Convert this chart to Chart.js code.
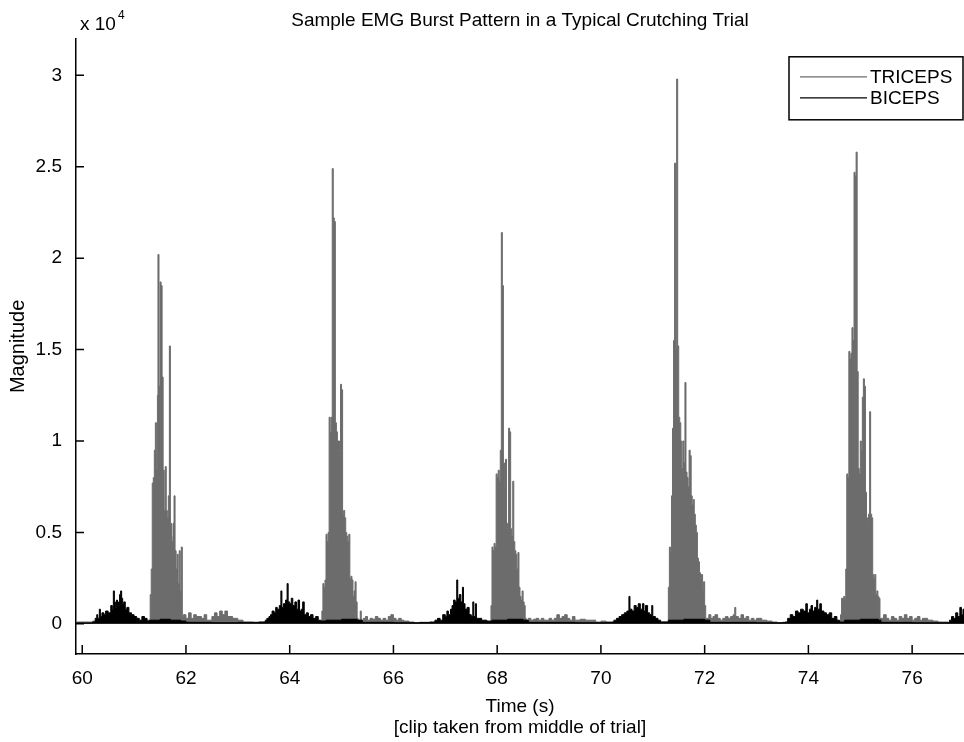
<!DOCTYPE html>
<html lang="en">
  <head>
    <meta charset="UTF-8" />
    <title>Sample EMG Burst Pattern</title>
    <script src="https://cdn.jsdelivr.net/npm/chart.js"></script>
    <style>
      body {
        margin: 0;
        background: #fff;
      }
      #chartContainer {
        width: 964px;
        height: 742px;
      }
    </style>
  </head>
  <body>
    <div id="chartContainer">
      <canvas id="emgChart" width="964" height="742"></canvas>
    </div>

    <script>
      // magnitudes are in units of 10^4
      const xTicks = [60, 62, 64, 66, 68, 70, 72, 74, 76];
      const yTicks = [0, 0.5, 1, 1.5, 2, 2.5, 3];

      const tricepsTime = [
        59.88, 60.2, 60.5, 60.8, 61.0, 61.2,
        61.31, 61.33, 61.35, 61.37, 61.39, 61.41, 61.43, 61.45, 61.46, 61.48,
        61.5, 61.52, 61.54, 61.56, 61.58, 61.6, 61.62, 61.64, 61.66, 61.68,
        61.7, 61.72, 61.73, 61.75, 61.77, 61.79, 61.81, 61.83, 61.85, 61.87,
        61.89, 61.91, 61.93,
        61.95, 62.0, 62.05, 62.1, 62.15, 62.2, 62.3, 62.35, 62.4, 62.5, 62.55,
        62.6, 62.65, 62.7, 62.75, 62.8, 62.9, 63.0, 63.1, 63.3, 63.5,
        64.62, 64.64, 64.66, 64.68, 64.7, 64.72, 64.74, 64.76, 64.78, 64.8,
        64.82, 64.84, 64.86, 64.88, 64.9, 64.92, 64.94, 64.96, 64.98, 65.0,
        65.02, 65.04, 65.06, 65.08, 65.1, 65.12, 65.14, 65.16, 65.18, 65.2,
        65.22, 65.24, 65.26, 65.28, 65.3,
        65.32, 65.36, 65.38, 65.42, 65.46, 65.5, 65.55, 65.6, 65.65, 65.7,
        65.75, 65.8, 65.85, 65.9, 65.95, 66.0, 66.05, 66.1, 66.15, 66.2,
        66.3, 66.4, 66.8, 67.3, 67.8,
        67.88, 67.9, 67.92, 67.94, 67.96, 67.98, 68.0, 68.02, 68.04, 68.06,
        68.08, 68.1, 68.12, 68.14, 68.16, 68.18, 68.2, 68.22, 68.24, 68.26,
        68.28, 68.3, 68.32, 68.34, 68.36, 68.38, 68.4, 68.42, 68.44, 68.46,
        68.48, 68.5, 68.52, 68.54,
        68.56, 68.6, 68.65, 68.7, 68.75, 68.8, 68.85, 68.9, 69.0, 69.05,
        69.1, 69.15, 69.2, 69.25, 69.3, 69.35, 69.4, 69.45, 69.5, 69.6,
        69.7, 69.8, 69.9, 70.0, 70.1, 70.2, 70.7, 71.2,
        71.3, 71.32, 71.34, 71.36, 71.38, 71.4, 71.42, 71.44, 71.46, 71.48,
        71.5, 71.52, 71.54, 71.56, 71.58, 71.6, 71.62, 71.64, 71.66, 71.68,
        71.7, 71.72, 71.74, 71.76, 71.78, 71.8, 71.82, 71.84, 71.86, 71.88,
        71.9, 71.92, 71.94, 71.96, 71.98, 72.0, 72.02,
        72.04, 72.08, 72.12, 72.16, 72.2, 72.25, 72.3, 72.35, 72.4, 72.45,
        72.5, 72.55, 72.58, 72.6, 72.65, 72.7, 72.75, 72.8, 72.85, 72.9,
        72.95, 73.0, 73.1, 73.2, 73.3, 73.4, 73.5, 74.0, 74.5,
        74.62, 74.64, 74.66, 74.68, 74.7, 74.72, 74.74, 74.76, 74.78, 74.8,
        74.82, 74.84, 74.86, 74.88, 74.9, 74.92, 74.94, 74.96, 74.98, 75.0,
        75.02, 75.04, 75.06, 75.08, 75.1, 75.12, 75.14, 75.16, 75.18, 75.2,
        75.22, 75.24, 75.26, 75.28, 75.3, 75.32, 75.34, 75.36, 75.38,
        75.4, 75.45, 75.5, 75.55, 75.6, 75.65, 75.7, 75.75, 75.8, 75.85,
        75.9, 75.95, 76.0, 76.05, 76.1, 76.15, 76.2, 76.3, 76.4, 76.5,
        76.6, 76.7, 77.0,
      ];
      const tricepsMag = [
        0.01, 0.015, 0.01, 0.02, 0.015, 0.02,
        0.16, 0.3, 0.77, 0.8, 0.95, 1.1, 0.85, 1.25, 2.02, 1.3,
        1.87, 1.85, 1.35, 0.84, 0.62, 0.86, 0.62, 0.58, 0.7, 1.52,
        0.55, 0.48, 0.45, 0.55, 0.7, 0.4, 0.3, 0.38, 0.22, 0.4,
        0.18, 0.42, 0.04,
        0.05, 0.03, 0.06, 0.03, 0.05, 0.04, 0.03, 0.05, 0.02, 0.04, 0.06,
        0.04, 0.07, 0.05, 0.07, 0.04, 0.03, 0.02, 0.01, 0.008, 0.01,
        0.07, 0.22, 0.2, 0.24, 0.49, 0.45, 0.5, 1.13, 1.05, 1.13,
        2.49, 2.22, 2.2, 1.1, 1.05, 1.0, 1.0, 0.95, 1.31, 1.28,
        0.6, 0.62, 0.58, 0.5, 0.48, 0.45, 0.49, 0.25, 0.26, 0.24,
        0.15, 0.18, 0.23, 0.12, 0.03,
        0.02, 0.07, 0.02, 0.03, 0.04, 0.02, 0.03, 0.025, 0.04, 0.03,
        0.02, 0.03, 0.02, 0.04, 0.05, 0.03, 0.02, 0.03, 0.02, 0.015,
        0.01, 0.005, 0.01, 0.01, 0.01,
        0.1, 0.42, 0.4, 0.44, 0.42, 0.82, 0.8, 0.84, 0.78, 0.95,
        2.14, 1.85, 0.88, 0.75, 0.9, 0.52, 0.55, 1.07, 1.05, 0.52,
        0.48, 0.78, 0.45, 0.4, 0.38, 0.3, 0.39, 0.2, 0.15, 0.13,
        0.18, 0.12, 0.1, 0.03,
        0.02, 0.03, 0.02, 0.025, 0.03, 0.02, 0.03, 0.02, 0.03, 0.02,
        0.03, 0.05, 0.03, 0.04, 0.05, 0.03, 0.02, 0.04, 0.02, 0.025,
        0.02, 0.02, 0.01, 0.015, 0.01, 0.005, 0.01, 0.01,
        0.2, 0.42, 0.4, 0.7, 1.07, 1.55, 2.52, 1.5, 2.98, 1.52,
        1.13, 1.1, 1.0, 0.85, 1.0, 0.88, 1.32, 0.83, 0.8, 0.75,
        0.95, 0.92, 0.7, 0.65, 0.68, 0.6, 0.54, 0.5, 0.36, 0.34,
        0.28, 0.25, 0.27, 0.18, 0.23, 0.1, 0.03,
        0.03, 0.05, 0.03, 0.04, 0.05, 0.03, 0.02, 0.03, 0.04, 0.03,
        0.04, 0.05, 0.09, 0.04, 0.03, 0.05, 0.03, 0.04, 0.02, 0.03,
        0.02, 0.03, 0.02, 0.015, 0.01, 0.005, 0.005, 0.01, 0.01,
        0.05, 0.14, 0.13, 0.15, 0.14, 0.3, 0.82, 0.8, 1.49, 1.45,
        1.48, 1.62, 1.55, 2.47, 2.45, 2.58, 1.38, 0.85, 0.82, 1.0,
        0.95, 1.24, 1.34, 1.3, 0.72, 0.58, 0.55, 0.6, 1.16, 0.6,
        0.58, 0.27, 0.25, 0.27, 0.16, 0.18, 0.15, 0.14, 0.03,
        0.03, 0.05, 0.03, 0.02, 0.04, 0.03, 0.02, 0.04, 0.03, 0.05,
        0.03, 0.04, 0.02, 0.03, 0.04, 0.02, 0.03, 0.02, 0.015, 0.01,
        0.01, 0.005, 0.005,
      ];

      const bicepsTime = [
        59.88, 60.2, 60.25, 60.28, 60.3, 60.33, 60.35, 60.38, 60.42, 60.45,
        60.5, 60.55, 60.58, 60.6, 60.62, 60.64, 60.66, 60.68, 60.7, 60.72,
        60.74, 60.76, 60.78, 60.8, 60.83, 60.86, 60.9, 60.95, 61.0, 61.05,
        61.1, 61.15, 61.2, 61.25,
        61.3, 61.5, 61.7, 61.9, 62.0, 62.5, 63.0, 63.4,
        63.53, 63.56, 63.6, 63.63, 63.66, 63.7, 63.73, 63.76, 63.8, 63.83,
        63.85, 63.88, 63.92, 63.95, 63.97, 64.0, 64.03, 64.06, 64.1, 64.13,
        64.16, 64.19, 64.22, 64.25, 64.28, 64.32, 64.36, 64.4, 64.45, 64.5,
        64.55, 64.6,
        64.7, 65.0, 65.3, 65.4, 66.0, 66.5, 66.7,
        66.75, 66.8, 66.85, 66.9, 66.95, 67.0, 67.03, 67.06, 67.1, 67.13,
        67.16, 67.19, 67.22, 67.24, 67.27, 67.3, 67.33, 67.35, 67.38, 67.42,
        67.46, 67.5, 67.53, 67.55, 67.58, 67.6, 67.65, 67.7, 67.8,
        67.9, 68.2, 68.5, 68.6, 69.5, 70.1,
        70.2, 70.25, 70.3, 70.35, 70.4, 70.45, 70.5, 70.54, 70.56, 70.6,
        70.64, 70.68, 70.72, 70.76, 70.8, 70.83, 70.86, 70.9, 70.94, 70.98,
        71.0, 71.05, 71.1, 71.15,
        71.3, 71.6, 72.0, 72.1, 73.0, 73.5,
        73.55, 73.6, 73.65, 73.7, 73.75, 73.8, 73.85, 73.9, 73.95, 73.98,
        74.02, 74.05, 74.08, 74.12, 74.16, 74.18, 74.22, 74.25, 74.3, 74.35,
        74.4, 74.45, 74.5, 74.55, 74.6,
        74.7, 75.0, 75.35, 75.4, 76.0, 76.5,
        76.72, 76.76, 76.8, 76.84, 76.88, 76.92, 76.95, 76.98, 77.0,
      ];
      const bicepsMag = [
        0.005, 0.01, 0.03, 0.05, 0.03, 0.08, 0.04, 0.06, 0.05, 0.07,
        0.06, 0.1, 0.08, 0.18, 0.12, 0.09, 0.13, 0.1, 0.12, 0.16,
        0.18, 0.14, 0.11, 0.12, 0.08, 0.09, 0.06, 0.05, 0.04, 0.03,
        0.02, 0.04, 0.03, 0.015,
        0.02, 0.025, 0.02, 0.015, 0.008, 0.006, 0.008, 0.01,
        0.02, 0.03, 0.04, 0.05, 0.07, 0.06, 0.09, 0.08, 0.1, 0.18,
        0.09, 0.11, 0.13, 0.22, 0.12, 0.11, 0.14, 0.1, 0.12, 0.08,
        0.13, 0.07, 0.08, 0.12, 0.05, 0.06, 0.04, 0.05, 0.03, 0.04,
        0.02, 0.015,
        0.02, 0.025, 0.02, 0.008, 0.006, 0.008, 0.01,
        0.01, 0.02, 0.03, 0.02, 0.05, 0.04, 0.07, 0.05, 0.08, 0.1,
        0.13, 0.12, 0.24, 0.14, 0.16, 0.12, 0.2, 0.11, 0.08, 0.09,
        0.05, 0.04, 0.12, 0.04, 0.11, 0.03, 0.03, 0.02, 0.015,
        0.02, 0.025, 0.02, 0.008, 0.006, 0.008,
        0.01, 0.02, 0.03, 0.04, 0.05, 0.06, 0.07, 0.15, 0.08, 0.07,
        0.1, 0.09, 0.11, 0.08, 0.11, 0.07, 0.1, 0.06, 0.05, 0.1,
        0.04, 0.03, 0.02, 0.01,
        0.02, 0.025, 0.02, 0.008, 0.006, 0.008,
        0.01, 0.03, 0.05, 0.04, 0.07, 0.06, 0.08, 0.07, 0.11, 0.06,
        0.08, 0.1, 0.07, 0.09, 0.13, 0.08, 0.11, 0.07, 0.06, 0.05,
        0.06, 0.03, 0.04, 0.02, 0.01,
        0.02, 0.025, 0.02, 0.008, 0.006, 0.006,
        0.02, 0.04, 0.03, 0.06, 0.04, 0.09, 0.05, 0.08, 0.06,
      ];

      const TRICEPS_COLOR = "#6c6c6c";
      const BICEPS_COLOR = "#000000";
      const FONT = '"Liberation Sans", Arial, Helvetica, sans-serif';

      Chart.defaults.color = "#000";
      Chart.defaults.font.family = FONT;

      function toPoints(times, mags) {
        return times.map((t, i) => ({ x: t, y: mags[i] }));
      }

      // MATLAB style ticks pointing into the axes, exponent label, boxed legend
      const matlabExtras = {
        id: "matlabExtras",
        afterDraw(chart) {
          const ctx = chart.ctx;
          const area = chart.chartArea;
          const xs = chart.scales.x;
          const ys = chart.scales.y;
          ctx.save();
          ctx.strokeStyle = "#000";
          ctx.lineWidth = 1.5;
          ctx.beginPath();
          xTicks.forEach((v) => {
            const px = xs.getPixelForValue(v);
            ctx.moveTo(px, area.bottom);
            ctx.lineTo(px, area.bottom - 9);
          });
          yTicks.forEach((v) => {
            const py = ys.getPixelForValue(v);
            ctx.moveTo(area.left, py);
            ctx.lineTo(area.left + 8, py);
          });
          ctx.stroke();

          // x 10^4 exponent
          ctx.fillStyle = "#000";
          ctx.textBaseline = "alphabetic";
          ctx.textAlign = "left";
          ctx.font = "19px " + FONT;
          ctx.fillText("x 10", area.left + 4, 30);
          const w = ctx.measureText("x 10").width;
          ctx.font = "12px " + FONT;
          ctx.fillText("4", area.left + 6 + w, 19);

          // legend
          const boxLeft = area.right - 175;
          const boxTop = area.top + 18;
          const boxW = 174;
          const boxH = 63;
          ctx.fillStyle = "#fff";
          ctx.fillRect(boxLeft, boxTop, boxW, boxH);
          ctx.lineWidth = 1.5;
          ctx.strokeStyle = "#000";
          ctx.strokeRect(boxLeft, boxTop, boxW, boxH);
          const rows = [
            ["TRICEPS", TRICEPS_COLOR],
            ["BICEPS", BICEPS_COLOR],
          ];
          ctx.font = "19px " + FONT;
          ctx.textBaseline = "middle";
          rows.forEach(([label, color], i) => {
            const y = boxTop + 20 + i * 21;
            ctx.strokeStyle = color;
            ctx.lineWidth = 1.2;
            ctx.beginPath();
            ctx.moveTo(boxLeft + 11, y);
            ctx.lineTo(boxLeft + 78, y);
            ctx.stroke();
            ctx.fillStyle = "#000";
            ctx.fillText(label, boxLeft + 81, y + 1);
          });
          ctx.restore();
        },
      };

      const ctx = document.getElementById("emgChart").getContext("2d");
      const chart = new Chart(ctx, {
        type: "line",
        data: {
          datasets: [
            {
              label: "TRICEPS",
              data: toPoints(tricepsTime, tricepsMag),
              borderColor: TRICEPS_COLOR,
              backgroundColor: TRICEPS_COLOR,
              borderWidth: 1,
              pointRadius: 0,
              stepped: true,
              fill: "origin",
              order: 1,
            },
            {
              label: "BICEPS",
              data: toPoints(bicepsTime, bicepsMag),
              borderColor: BICEPS_COLOR,
              backgroundColor: BICEPS_COLOR,
              borderWidth: 1,
              pointRadius: 0,
              stepped: true,
              fill: "origin",
              order: 0,
            },
          ],
        },
        options: {
          responsive: false,
          animation: false,
          events: [],
          layout: { padding: 0 },
          scales: {
            x: {
              type: "linear",
              min: 59.88,
              max: 77,
              grid: { display: false },
              border: { display: true, color: "#000", width: 1.5 },
              ticks: {
                stepSize: 2,
                includeBounds: false,
                padding: 5,
                maxRotation: 0,
                font: { size: 19 },
                callback: (v) => String(v),
              },
              title: {
                display: true,
                text: ["Time (s)", "[clip taken from middle of trial]"],
                font: { size: 19, lineHeight: 1.1 },
                padding: { top: 0, bottom: 4 },
              },
              afterFit(scale) {
                scale.height = 88;
              },
            },
            y: {
              min: -0.165,
              max: 3.2,
              grid: { display: false },
              border: { display: true, color: "#000", width: 1.5 },
              ticks: {
                stepSize: 0.5,
                includeBounds: false,
                padding: 6,
                font: { size: 19 },
                callback: (v) => String(v),
              },
              title: {
                display: true,
                text: "Magnitude",
                font: { size: 20, lineHeight: 1.2 },
                padding: { top: 6, bottom: 0 },
              },
              afterFit(scale) {
                scale.width = 76;
              },
            },
          },
          plugins: {
            legend: { display: false },
            tooltip: { enabled: false },
            title: {
              display: true,
              fullSize: false,
              text: "Sample EMG Burst Pattern in a Typical Crutching Trial",
              color: "#000",
              font: { size: 19, weight: "normal", lineHeight: 1.2 },
              padding: { top: 9, bottom: 7 },
            },
          },
        },
        plugins: [matlabExtras],
      });
    </script>
  </body>
</html>
